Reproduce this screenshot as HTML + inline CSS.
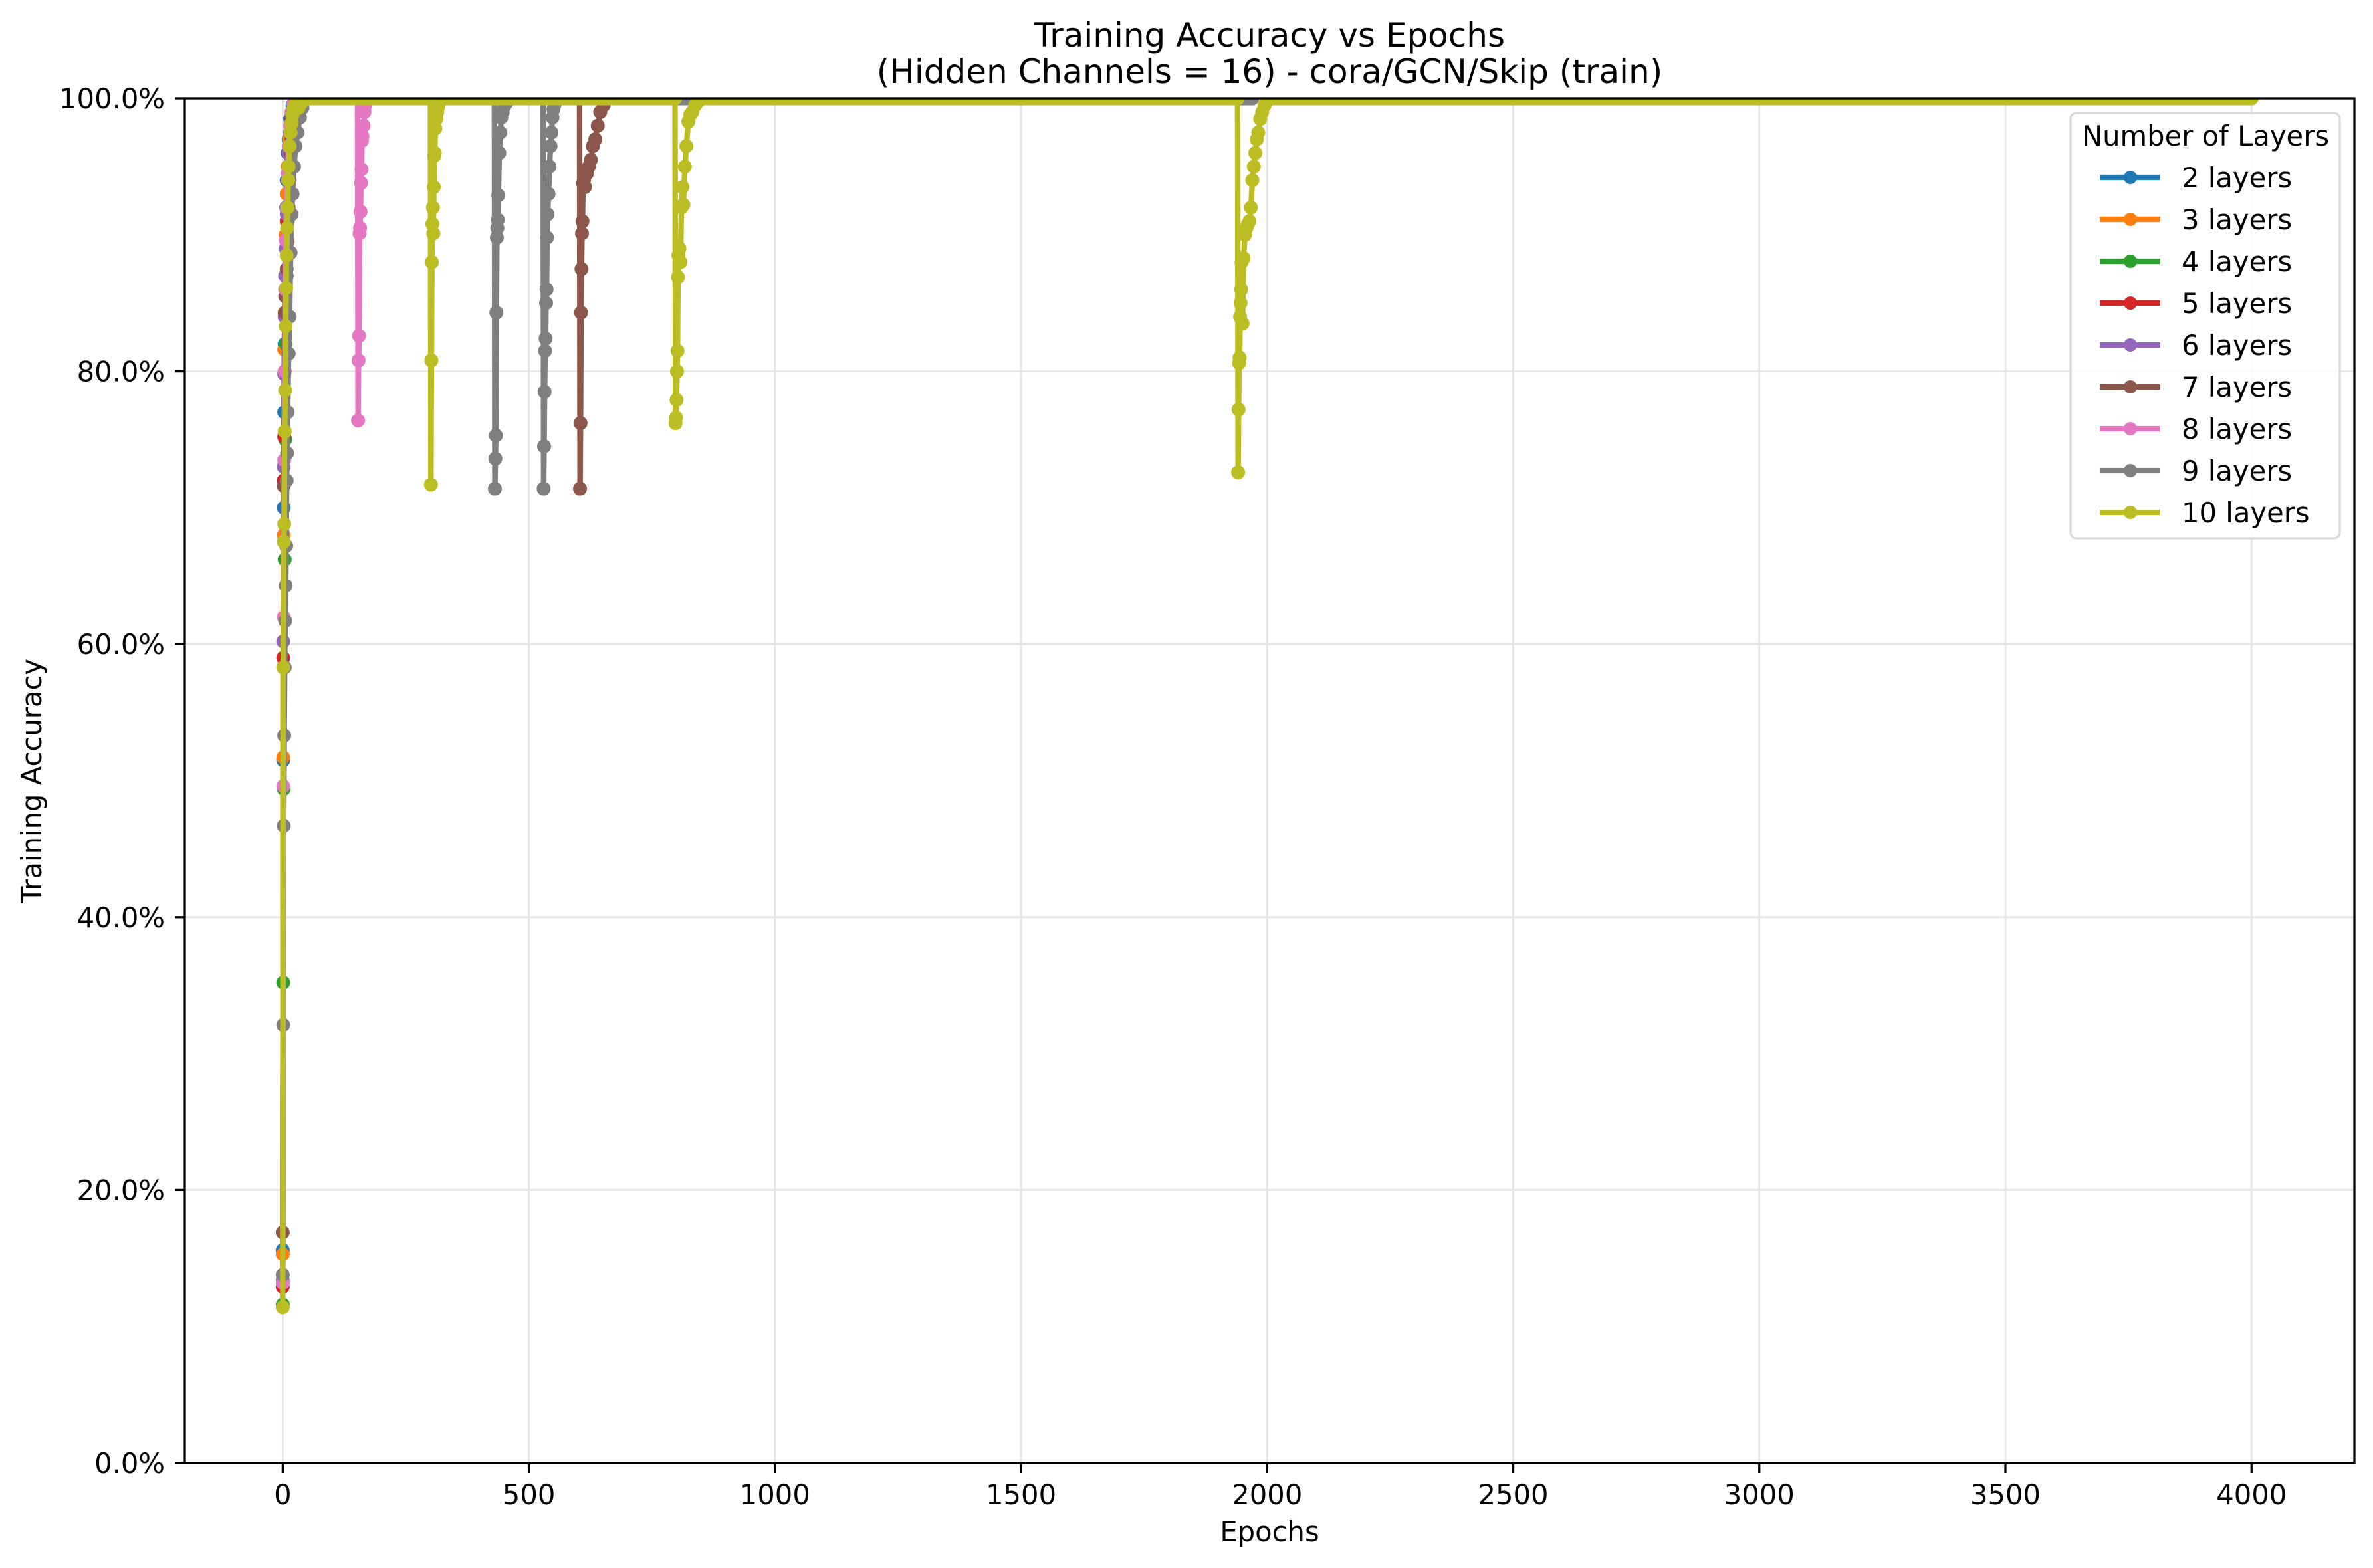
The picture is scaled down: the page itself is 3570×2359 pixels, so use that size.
<!DOCTYPE html>
<html><head><meta charset="utf-8"><style>
html,body{margin:0;padding:0;background:#fff;}
svg{display:block;}
text{font-family:"DejaVu Sans","Liberation Sans",sans-serif;fill:#000;}
</style></head>
<body>
<svg id="chart" width="3570" height="2359" viewBox="0 0 3570 2359" xmlns="http://www.w3.org/2000/svg">
<defs><clipPath id="plotclip"><rect x="278" y="148" width="3264" height="2053"/></clipPath></defs>
<rect x="0" y="0" width="3570" height="2359" fill="#fff"/>
<text x="1910" y="70" font-size="50" text-anchor="middle">Training Accuracy vs Epochs</text>
<text x="1910" y="125" font-size="50" text-anchor="middle">(Hidden Channels = 16) - cora/GCN/Skip (train)</text>
<g id="grid"></g>
<g id="series" clip-path="url(#plotclip)"></g>
<g id="axes"></g>
<text x="1910" y="2319" font-size="41.7" text-anchor="middle">Epochs</text>
<text x="62" y="1175" font-size="41.7" text-anchor="middle" transform="rotate(-90 62 1175)">Training Accuracy</text>
<g id="legend"></g>
</svg>
<script>
const xTicks = [0,500,1000,1500,2000,2500,3000,3500,4000];
const yTicks = [0,20,40,60,80,100];
const seriesNames = ["2 layers","3 layers","4 layers","5 layers","6 layers","7 layers","8 layers","9 layers","10 layers"];
const seriesColors = ["#1f77b4","#ff7f0e","#2ca02c","#d62728","#9467bd","#8c564b","#e377c2","#7f7f7f","#bcbd22"];

const epochs2 = [0,1,2,3,4,5,6,7,8,10,12,15,20,25,600];
const acc2    = [15.6,51.5,70,77,82,86,90,92,94,96,97,98.5,99.5,100,100];
const epochs3 = [0,1,2,3,4,5,6,8,10,13,16,20,26,700];
const acc3    = [15.3,51.7,68,81.6,84,87,90,93,95,97,98,99,100,100];
const epochs4 = [0,1,2,3,4,5,6,8,10,12,15,18,22,28,800];
const acc4    = [11.6,35.2,49.4,58.3,66.2,75,82,87,91,94,96,98,99.4,100,100];
const epochs5 = [0,1,2,3,4,5,6,8,10,12,15,18,22,28,750];
const acc5    = [12.9,59,72,75.2,80,84,87,91,94,96,97.5,98.5,99.5,100,100];
const epochs6 = [0,1,2,3,4,5,6,8,10,12,15,18,22,26,830];
const acc6    = [13.4,60.2,73,79.8,84,87,89,91.5,94,96,97.5,98.8,99.6,100,100];
const epochs7 = [0,2,4,5,6,8,10,12,14,16,18,20,24,28,34,603,604,605,606,607,608,609,610,612,614,618,622,626,630,635,640,645,652,660,1500];
const acc7    = [16.9,71.6,84.3,85.5,86,87.5,89.5,92,94,96,97,98,99,99.6,100,100,71.4,76.2,84.3,87.5,90.1,91,93.8,94,93.5,94.5,95,95.5,96.5,97,98,99,99.5,100,100];
const epochs8 = [0,1,2,3,4,5,6,8,10,12,15,18,22,26,152,153,154,155,156,157,158,159,160,161,162,164,166,168,172,1200];
const acc8    = [13.2,49.6,62,73.5,80,86,89.6,92,94.5,96.5,98,99,99.6,100,100,76.4,80.8,82.6,90.1,90.5,91.7,93.8,94.8,96.9,97.2,98,99,99.5,100,100];
const epochs9 = [0,1,2,3,4,5,6,7,8,9,10,12,14,16,18,20,23,26,30,35,40,46,430,431,432,433,434,435,436,437,438,440,442,444,447,450,455,460,470,529,530,531,532,533,534,535,536,537,538,540,542,544,546,548,550,553,556,560,565,1970];
const acc9    = [13.8,32.1,46.7,53.3,58.3,61.7,64.3,67.2,72,74,77,81.3,84,88.7,91.5,93,95,96.5,97.5,98.6,99.3,100,100,71.4,73.6,75.3,84.3,89.8,90.5,91.1,92.9,96,97.5,98.6,99,99.4,99.7,99.9,100,100,71.4,74.5,78.5,81.5,82.4,85,86,89.8,91.5,93,95,96.5,97.5,98.6,99.2,99.6,99.8,100,100,100];
const epochs10 = [0,1,2,3,4,5,6,7,8,9,10,11,12,14,16,18,20,22,25,28,32,36,42,50,60,300,301,302,303,304,305,306,307,308,309,310,312,314,316,318,320,324,797,798,799,800,801,802,803,804,806,808,810,812,814,817,820,824,828,832,838,845,855,867,1940,1941,1942,1943,1944,1945,1946,1947,1948,1950,1952,1955,1958,1961,1964,1967,1970,1973,1976,1979,1982,1986,1990,1995,2000,2010,4000];
const acc10    = [11.4,58.3,67.5,68.8,75.6,78.6,83.3,86.1,88.5,90.5,92,94,95,96.5,97.5,98.2,98.8,99.2,99.5,99.7,99.3,99.6,99.8,100,100,100,71.7,80.8,88,90.8,92,90.1,93.5,95.8,96,97.8,98.5,99,99.4,99.7,100,100,100,76.2,76.6,77.9,80,81.5,86.9,88.5,89,88,92,93.5,92.2,95,96.5,98.3,98.8,99,99.5,99.8,100,100,100,72.6,77.2,80.6,81,84,85,86,88,83.5,88.3,90,90.5,90.8,91,92,94,95,96,97,97.5,98.5,99,99.5,99.8,100,100];

const allEpochs = [epochs2,epochs3,epochs4,epochs5,epochs6,epochs7,epochs8,epochs9,epochs10];
const allAcc = [acc2,acc3,acc4,acc5,acc6,acc7,acc8,acc9,acc10];

const X0=278, X1=3542, Y0=148, Y1=2201;
const XMIN=-199, XMAX=4209;
const MR=10.5;
function xs(e){ return X0 + (e - XMIN) / (XMAX - XMIN) * (X1 - X0); }
function ys(a){ return Y1 - a / 100 * (Y1 - Y0); }
const NS="http://www.w3.org/2000/svg";
function mk(tag, attrs, parent){ const el=document.createElementNS(NS,tag); for(const k in attrs) el.setAttribute(k,attrs[k]); parent.appendChild(el); return el; }

const grid=document.getElementById('grid');
const axes=document.getElementById('axes');
xTicks.forEach(t=>{
  const gl=mk('line',{x1:xs(t),x2:xs(t),y1:Y0,y2:Y1,stroke:'#e6e6e6','stroke-width':3},grid);
  
  
  const tk=mk('line',{x1:xs(t),x2:xs(t),y1:Y1,y2:Y1+15,stroke:'#000','stroke-width':3.3},axes);
  
  
  const tl=mk('text',{x:xs(t),y:Y1+62,'font-size':41.7,'text-anchor':'middle'},axes);
  tl.textContent=String(t);
  
  
});
yTicks.forEach(t=>{
  const gl=mk('line',{x1:X0,x2:X1,y1:ys(t),y2:ys(t),stroke:'#e6e6e6','stroke-width':3},grid);
  
  
  const tk=mk('line',{x1:X0-15,x2:X0,y1:ys(t),y2:ys(t),stroke:'#000','stroke-width':3.3},axes);
  
  
  const tl=mk('text',{x:X0-30,y:ys(t)+15,'font-size':41.7,'text-anchor':'end'},axes);
  tl.textContent=t.toFixed(1)+'%';
  
  
});
const frame=mk('rect',{x:X0,y:Y0,width:X1-X0,height:Y1-Y0,fill:'none',stroke:'#000','stroke-width':3.3},axes);



const sg=document.getElementById('series');
allEpochs.forEach((ep,i)=>{
  const ac=allAcc[i], col=seriesColors[i];
  const g=mk('g',{},sg);
  
  
  const pts=ep.map((e,j)=>xs(e).toFixed(2)+','+ys(ac[j]).toFixed(2)).join(' ');
  const pl=mk('polyline',{points:pts,fill:'none',stroke:col,'stroke-width':8.3,'stroke-linejoin':'round','stroke-linecap':'round'},g);
  
  
  for(let j=1;j<ep.length;j++){
    if(ac[j]===100 && ac[j-1]===100 && ep[j]-ep[j-1]>1){
      const b=mk('line',{x1:xs(ep[j-1]),x2:xs(ep[j]),y1:ys(100),y2:ys(100),stroke:col,'stroke-width':2*MR,'stroke-linecap':'round'},g);
      
      
    }
  }
  ep.forEach((e,j)=>{
    const c=mk('circle',{cx:xs(e),cy:ys(ac[j]),r:MR,fill:col},g);
    
    
  });
});

const lg=document.getElementById('legend');
const box=mk('rect',{x:3115,y:170,width:405,height:640,rx:9,fill:'#fff','fill-opacity':0.8,stroke:'#d9d9d9','stroke-width':3.3},lg);


const lt=mk('text',{x:3318,y:219,'font-size':41.7,'text-anchor':'middle'},lg);
lt.textContent='Number of Layers';


seriesNames.forEach((n,i)=>{
  const cy=267+63*i;
  const eg=mk('g',{},lg);
  
  
  mk('line',{x1:3159,x2:3250,y1:cy,y2:cy,stroke:seriesColors[i],'stroke-width':8.3},eg);
  mk('circle',{cx:3205,cy:cy,r:10,fill:seriesColors[i]},eg);
  const t=mk('text',{x:3282,y:cy+15,'font-size':41.7},eg);
  t.textContent=n;
});
</script>
</body></html>
